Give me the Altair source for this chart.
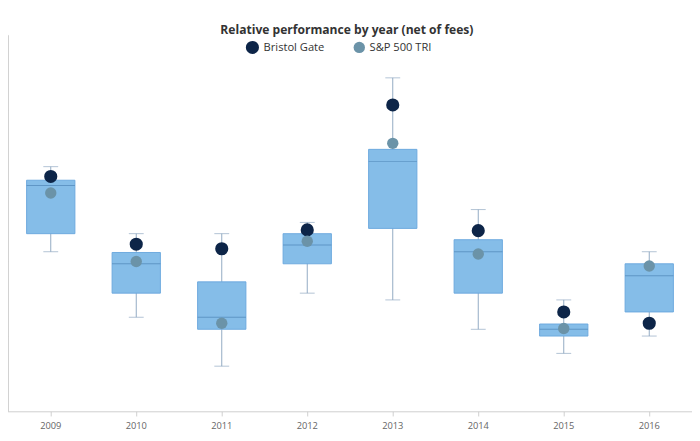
import altair as alt
import pandas as pd

# ─── DATA ───────────────────────────────────────────────────────────────────
years = ["2009", "2010", "2011", "2012", "2013", "2014", "2015", "2016"]
whisker_low = [2.12, 1.25, 0.60, 1.57, 1.48, 1.09, 0.77, 1.00]
box_low = [2.36, 1.57, 1.09, 1.96, 2.43, 1.57, 1.00, 1.32]
median = [3.00, 1.96, 1.25, 2.21, 3.32, 2.12, 1.09, 1.80]
box_high = [3.07, 2.11, 1.72, 2.36, 3.48, 2.28, 1.16, 1.96]
whisker_high = [3.25, 2.36, 2.36, 2.51, 4.43, 2.68, 1.48, 2.12]
bristol_gate = [3.12, 2.22, 2.16, 2.41, 4.07, 2.40, 1.32, 1.17]
sp500 = [2.90, 1.99, 1.17, 2.26, 3.56, 2.09, 1.10, 1.93]

df_box = pd.DataFrame({
    "Anno": years, "wl": whisker_low, "q1": box_low, "med": median,
    "q3": box_high, "wh": whisker_high,
})
df_pts = pd.concat([
    pd.DataFrame({"Anno": years, "Valore": bristol_gate, "Serie": "Bristol Gate"}),
    pd.DataFrame({"Anno": years, "Valore": sp500, "Serie": "S&P 500 TRI"}),
])

# ─── GRAFICO ────────────────────────────────────────────────────────────────
x_enc = alt.X("Anno:N", sort=years, title=None,
              scale=alt.Scale(paddingInner=0, paddingOuter=0),
              axis=alt.Axis(labelAngle=0, labelColor="#666", labelFontSize=10,
                            tickColor="#ccc", domainColor="#ccc", labelPadding=6))
y_scale = alt.Scale(domain=[0, 5], nice=False)

base = alt.Chart(df_box).encode(x=x_enc)

whiskers = base.mark_rule(color="#8aa4bf").encode(
    y=alt.Y("wl:Q", scale=y_scale, title=None,
            axis=alt.Axis(labels=False, grid=False, domainColor="#ccc",
                          tickColor="#ccc", values=[0, 1, 2, 3, 4, 5])),
    y2="wh:Q",
)
cap_low = base.mark_tick(color="#8aa4bf", size=16, orient="horizontal").encode(y="wl:Q")
cap_high = base.mark_tick(color="#8aa4bf", size=16, orient="horizontal").encode(y="wh:Q")
box = base.mark_bar(size=52, color="#85bde8", stroke="#6aa8de", strokeWidth=1).encode(
    y="q1:Q", y2="q3:Q"
)
med_line = base.mark_tick(color="#4f86b8", size=52, thickness=1,
                          orient="horizontal").encode(y="med:Q")

points = alt.Chart(df_pts).mark_circle(opacity=1).encode(
    x=alt.X("Anno:N", sort=years),
    y="Valore:Q",
    color=alt.Color("Serie:N",
                    scale=alt.Scale(domain=["Bristol Gate", "S&P 500 TRI"],
                                    range=["#0d2548", "#6b93a8"]),
                    legend=alt.Legend(title=None, orient="none", direction="horizontal",
                                      legendX=255, legendY=5, labelFontSize=12,
                                      labelColor="#333", symbolSize=160,
                                      columnPadding=30)),
    size=alt.Size("Serie:N", scale=alt.Scale(domain=["Bristol Gate", "S&P 500 TRI"],
                                             range=[200, 150]), legend=None),
)

chart = (
    (whiskers + cap_low + cap_high + box + med_line + points)
    .properties(
        width=736, height=405,
        autosize=alt.AutoSizeParams(type="none"),
        padding={"left": 0, "top": 12, "right": 0, "bottom": 30},
        title=alt.Title("Relative performance by year (net of fees)", anchor="start",
                        dx=234, offset=-2, fontSize=13, color="#333"),
    )
    .configure(font="Open Sans")
    .configure_view(stroke=None)
)

chart.save("out.html", embed_options={"renderer": "svg", "actions": False})
